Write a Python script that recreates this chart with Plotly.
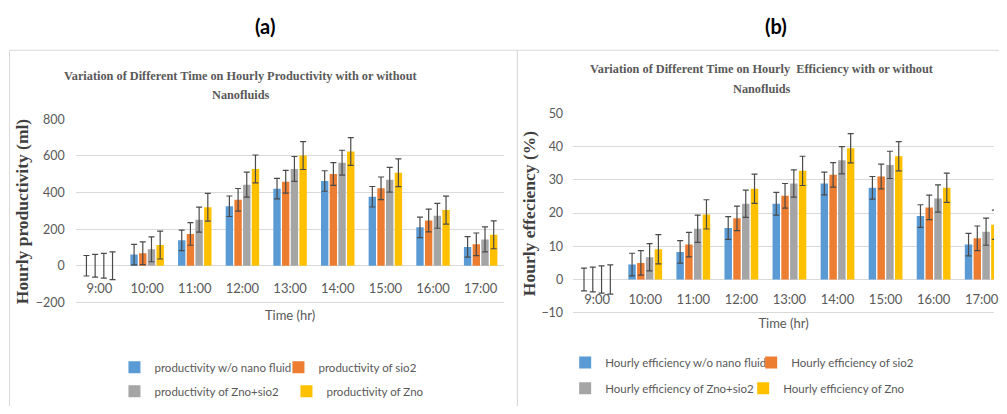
import plotly.graph_objects as go

times = ["9:00", "10:00", "11:00", "12:00", "13:00", "14:00", "15:00", "16:00", "17:00"]

prod_names = ["productivity w/o nano fluid", "productivity of sio2",
              "productivity of Zno+sio2", "productivity of Zno"]
prod_base = [0, 61, 139, 325, 421, 463, 377, 210, 103]
prod_sio2 = [0, 68, 174, 360, 459, 501, 423, 247, 117]
prod_znosio2 = [0, 90, 252, 443, 529, 563, 470, 273, 144]
prod_zno = [0, 113, 320, 529, 602, 624, 508, 304, 169]
prod_err = [56, 62, 68, 76]

eff_names = ["Hourly efficiency w/o nano fluid", "Hourly efficiency of sio2",
             "Hourly efficiency of Zno+sio2", "Hourly efficiency of Zno"]
eff_base = [0, 4.5, 8.3, 15.5, 22.8, 28.9, 27.6, 19.1, 10.5]
eff_sio2 = [0, 5.0, 10.5, 18.4, 25.2, 31.5, 31.0, 21.7, 12.4]
eff_znosio2 = [0, 6.7, 15.3, 22.8, 28.9, 35.9, 34.5, 24.4, 14.4]
eff_zno = [0, 9.1, 19.6, 27.3, 32.7, 39.5, 37.1, 27.6, 16.5]
eff_err = [3.4, 3.7, 4.1, 4.4]

prod_ticks = [-200, 0, 200, 400, 600, 800]
eff_ticks = [-10, 0, 10, 20, 30, 40, 50]

colors = ["#5B9BD5", "#ED7D31", "#A5A5A5", "#FFC000"]

OFF = 8  # default page body margin around the figure
W, H = 1007 - 2 * OFF, 414 - 2 * OFF


def px(x):
    return (x - OFF) / W


def py(y):
    return 1 - (y - OFF) / H


fig = go.Figure()

prod_series = [prod_base, prod_sio2, prod_znosio2, prod_zno]
eff_series = [eff_base, eff_sio2, eff_znosio2, eff_zno]
prod_legends = ["legend", "legend", "legend2", "legend2"]
eff_legends = ["legend3", "legend3", "legend4", "legend4"]

for i in range(4):
    fig.add_trace(go.Bar(
        x=times, y=prod_series[i], name=prod_names[i],
        marker=dict(color=colors[i], line=dict(width=0)),
        error_y=dict(type="data", array=[prod_err[i]] * len(times),
                     color="#4a4a4a", thickness=1.2, width=3),
        xaxis="x", yaxis="y", legend=prod_legends[i]))
for i in range(4):
    fig.add_trace(go.Bar(
        x=times, y=eff_series[i], name=eff_names[i],
        marker=dict(color=colors[i], line=dict(width=0)),
        error_y=dict(type="data", array=[eff_err[i]] * len(times),
                     color="#4a4a4a", thickness=1.2, width=3),
        xaxis="x2", yaxis="y2", legend=eff_legends[i]))

tick_font = dict(family="Lato", size=13, color="#595959")
axis_title_font = dict(family="Lato", size=13, color="#595959")
ytitle_font = dict(family="Liberation Serif", size=17.5, color="#404040")
grid = "#D9D9D9"

# y scales: left 0.1917 px/unit (0 at y=270.7), right 3.48 px/unit (0 at y=285)
fig.update_layout(
    width=W, height=H,
    margin=dict(l=0, r=0, t=0, b=0),
    paper_bgcolor="white", plot_bgcolor="white",
    barmode="group", bargap=0.27, bargroupgap=0.15,
    xaxis=dict(domain=[px(76), px(507)], anchor="free", position=py(284),
               range=[-0.5, 8.5],
               showgrid=False, showline=False, zeroline=False, ticks="",
               tickfont=tick_font,
               title=dict(text="Time (hr)", font=axis_title_font, standoff=16)),
    yaxis=dict(domain=[py(311.3), py(116.3)], anchor="x", range=[-212, 805],
               tickvals=prod_ticks, showgrid=True, gridcolor=grid, gridwidth=1,
               zeroline=True, zerolinecolor=grid, zerolinewidth=1,
               showline=False, ticks="", tickfont=dict(family="Lato", size=12.5, color="#595959"),
               ticklabelstandoff=10,
               title=dict(text="<b>Hourly productivity (ml)</b>", font=ytitle_font, standoff=2)),
    xaxis2=dict(domain=[px(576), px(1007 - OFF)], anchor="free", position=py(296),
                range=[-0.5, 8.256],
                showgrid=False, showline=False, zeroline=False, ticks="",
                tickfont=tick_font,
                title=dict(text="Time (hr)", font=axis_title_font, standoff=12)),
    yaxis2=dict(domain=[py(321.9), py(110)], anchor="x2", range=[-10.6, 50.3],
                tickvals=eff_ticks, showgrid=True, gridcolor=grid, gridwidth=1,
                zeroline=True, zerolinecolor=grid, zerolinewidth=1,
                showline=False, ticks="", tickfont=dict(family="Lato", size=12.5, color="#595959"),
                ticklabelstandoff=9,
                title=dict(text="<b>Hourly effeciency (%)</b>", font=ytitle_font, standoff=1)),
    showlegend=True,
)

leg_font = dict(family="Lato", size=11.5, color="#595959")
fig.update_layout(
    legend=dict(orientation="h", x=px(115), y=py(377), xanchor="left", yanchor="middle",
                font=leg_font, entrywidth=119, bgcolor="rgba(0,0,0,0)"),
    legend2=dict(orientation="h", x=px(115), y=py(402), xanchor="left", yanchor="middle",
                 font=leg_font, entrywidth=127, bgcolor="rgba(0,0,0,0)"),
    legend3=dict(orientation="h", x=px(568), y=py(372), xanchor="left", yanchor="middle",
                 font=leg_font, entrywidth=141, bgcolor="rgba(0,0,0,0)"),
    legend4=dict(orientation="h", x=px(568), y=py(399), xanchor="left", yanchor="middle",
                 font=leg_font, entrywidth=133, bgcolor="rgba(0,0,0,0)"),
)

title_font = dict(family="Liberation Serif", size=12.3, color="#595959")
titles = [
    ("Variation of Different Time on Hourly Productivity with or without", 242.5, 72),
    ("Nanofluids", 242.5, 92),
    ("Variation of Different Time on Hourly  Efficiency with or without", 766, 65),
    ("Nanofluids", 766, 85),
]
for txt, tx, ty in titles:
    fig.add_annotation(text="<b>" + txt + "</b>", x=px(tx), y=py(ty), xref="paper", yref="paper",
                       showarrow=False, font=title_font, xanchor="center", yanchor="middle")

for lbl, lx in [("(a)", 266), ("(b)", 780)]:
    fig.add_annotation(text="<b>" + lbl + "</b>", x=px(lx), y=py(19), xref="paper", yref="paper",
                       showarrow=False, xanchor="center", yanchor="middle",
                       font=dict(family="Lato", size=20, color="#000000"))

fig.add_shape(type="rect", xref="paper", yref="paper", x0=px(9.5), x1=px(520), y0=-0.05, y1=py(45),
              line=dict(color="#D9D9D9", width=1), layer="below")
fig.add_shape(type="rect", xref="paper", yref="paper", x0=px(520), x1=1.05, y0=-0.05, y1=py(45),
              line=dict(color="#D9D9D9", width=1), layer="below")

fig.write_html("out.html")
